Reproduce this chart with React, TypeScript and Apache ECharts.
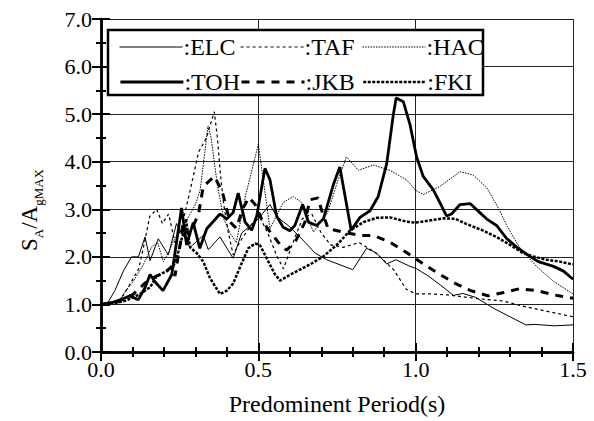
import React, { useEffect, useRef } from 'react';
import * as echarts from 'echarts';

const FONT = "'Liberation Serif', 'Times New Roman', Times, serif";

const xTicks = [0, 0.5, 1.0, 1.5];
const yTicks = [0, 1, 2, 3, 4, 5, 6, 7];

const elcT = [0, 0.02, 0.044, 0.071, 0.097, 0.119, 0.14, 0.156, 0.182, 0.214, 0.24, 0.283, 0.325, 0.341, 0.378, 0.42, 0.447, 0.5, 0.537, 0.558, 0.6, 0.648, 0.68, 0.717, 0.8, 0.844, 0.876, 0.908, 0.937, 0.982, 1.0, 1.04, 1.08, 1.12, 1.15, 1.19, 1.25, 1.3, 1.35, 1.38, 1.44, 1.5];
const elcV = [1.0, 1.02, 1.29, 1.7, 2.0, 2.0, 2.42, 1.92, 2.38, 2.04, 2.7, 2.2, 2.45, 2.15, 2.42, 1.97, 2.5, 2.8, 3.1, 2.85, 2.63, 2.31, 2.08, 1.94, 1.73, 2.18, 2.08, 1.85, 1.94, 1.8, 1.76, 1.6, 1.4, 1.19, 1.23, 1.15, 0.91, 0.74, 0.57, 0.58, 0.55, 0.57];

const tafT = [0, 0.03, 0.06, 0.09, 0.12, 0.135, 0.155, 0.177, 0.195, 0.215, 0.235, 0.255, 0.28, 0.31, 0.335, 0.36, 0.37, 0.38, 0.39, 0.405, 0.42, 0.44, 0.47, 0.5, 0.53, 0.56, 0.58, 0.61, 0.64, 0.67, 0.7, 0.73, 0.77, 0.82, 0.87, 0.93, 0.97, 1.0, 1.05, 1.1, 1.2, 1.28, 1.35, 1.4, 1.45, 1.5];
const tafV = [1.0, 1.02, 1.08, 1.4, 1.75, 2.2, 2.85, 3.0, 2.7, 2.9, 2.3, 2.6, 3.3, 4.2, 4.5, 5.05, 4.5, 3.7, 3.1, 2.5, 2.04, 2.3, 2.6, 2.9, 2.5, 2.0, 1.75, 2.3, 2.8, 2.9, 2.5, 2.25, 2.2, 2.3, 2.1, 1.73, 1.32, 1.22, 1.22, 1.2, 1.12, 1.07, 0.95, 0.88, 0.81, 0.74];

const hacT = [0, 0.03, 0.06, 0.08, 0.103, 0.135, 0.161, 0.18, 0.198, 0.215, 0.235, 0.255, 0.275, 0.3, 0.315, 0.33, 0.34, 0.35, 0.37, 0.39, 0.41, 0.43, 0.46, 0.49, 0.5, 0.537, 0.579, 0.611, 0.638, 0.675, 0.72, 0.75, 0.78, 0.818, 0.865, 0.918, 0.971, 1.0, 1.024, 1.077, 1.141, 1.183, 1.226, 1.265, 1.29, 1.33, 1.384, 1.437, 1.5];
const hacV = [1.0, 1.02, 1.1, 1.3, 1.49, 1.84, 2.21, 2.3, 1.9, 2.1, 2.4, 2.6, 2.8, 3.1, 3.4, 4.2, 4.75, 4.5, 3.5, 2.8, 2.5, 2.3, 3.3, 4.1, 4.37, 2.59, 3.14, 3.27, 3.14, 2.52, 2.93, 3.55, 4.1, 3.82, 3.93, 3.82, 3.62, 3.4, 3.31, 3.48, 3.79, 3.72, 3.45, 3.0, 2.65, 2.2, 1.8, 1.49, 1.22];

const tohT = [0, 0.04, 0.07, 0.092, 0.118, 0.14, 0.156, 0.172, 0.197, 0.225, 0.256, 0.272, 0.293, 0.314, 0.336, 0.378, 0.4, 0.42, 0.436, 0.458, 0.479, 0.495, 0.521, 0.537, 0.558, 0.579, 0.6, 0.616, 0.641, 0.659, 0.685, 0.707, 0.738, 0.759, 0.795, 0.823, 0.855, 0.881, 0.908, 0.929, 0.938, 0.961, 0.982, 1.003, 1.024, 1.056, 1.077, 1.098, 1.114, 1.141, 1.173, 1.204, 1.225, 1.257, 1.29, 1.32, 1.363, 1.39, 1.438, 1.47, 1.5];
const tohV = [1.0, 1.05, 1.12, 1.18, 1.1, 1.35, 1.63, 1.47, 1.29, 1.63, 3.03, 2.25, 2.72, 2.18, 2.59, 2.9, 2.8, 2.93, 3.34, 2.73, 2.56, 2.86, 3.86, 3.62, 2.86, 2.62, 2.55, 2.66, 3.1, 2.73, 2.66, 2.8, 3.51, 3.89, 2.56, 2.83, 2.97, 3.27, 3.96, 4.99, 5.34, 5.26, 4.78, 4.1, 3.69, 3.41, 3.14, 2.86, 2.9, 3.1, 3.12, 2.93, 2.8, 2.66, 2.38, 2.21, 2.01, 1.9, 1.8, 1.7, 1.53];

const jkbT = [0, 0.05, 0.1, 0.14, 0.177, 0.2, 0.225, 0.235, 0.25, 0.262, 0.275, 0.29, 0.31, 0.325, 0.36, 0.385, 0.41, 0.43, 0.45, 0.47, 0.49, 0.51, 0.53, 0.57, 0.59, 0.62, 0.648, 0.664, 0.69, 0.7, 0.722, 0.77, 0.823, 0.865, 0.918, 0.971, 1.02, 1.07, 1.12, 1.175, 1.23, 1.28, 1.33, 1.385, 1.44, 1.5];
const jkbV = [1.0, 1.05, 1.2, 1.45, 1.6, 1.65, 1.8, 1.6, 2.2, 2.7, 2.5, 2.6, 2.9, 3.48, 3.69, 3.38, 2.73, 2.6, 3.0, 3.25, 3.1, 2.8, 2.59, 2.25, 2.14, 2.35, 2.73, 3.2, 3.24, 3.0, 2.59, 2.52, 2.45, 2.45, 2.31, 2.09, 1.87, 1.66, 1.46, 1.29, 1.18, 1.25, 1.33, 1.29, 1.2, 1.13];

const fkiT = [0, 0.04, 0.08, 0.124, 0.156, 0.177, 0.209, 0.23, 0.246, 0.262, 0.27, 0.283, 0.304, 0.325, 0.346, 0.378, 0.4, 0.42, 0.441, 0.468, 0.49, 0.505, 0.532, 0.553, 0.569, 0.611, 0.664, 0.707, 0.754, 0.791, 0.834, 0.876, 0.918, 0.971, 1.0, 1.04, 1.088, 1.125, 1.162, 1.215, 1.262, 1.3, 1.341, 1.373, 1.416, 1.458, 1.5];
const fkiV = [1.0, 1.02, 1.08, 1.22, 1.36, 1.6, 1.7, 1.8, 2.11, 2.52, 2.8, 2.2, 2.08, 1.9, 1.56, 1.22, 1.29, 1.44, 1.77, 2.18, 2.28, 2.25, 1.9, 1.63, 1.5, 1.66, 1.84, 2.01, 2.28, 2.55, 2.73, 2.82, 2.83, 2.74, 2.72, 2.76, 2.81, 2.8, 2.69, 2.55, 2.4, 2.25, 2.08, 2.01, 1.94, 1.9, 1.84];

const zip = (t: number[], v: number[]) => t.map((x, i) => [x, v[i]]);

const STYLES: Record<string, { width: number; type: any }> = {
  ELC: { width: 1, type: 'solid' },
  TAF: { width: 1.2, type: [3, 3] },
  HAC: { width: 1, type: [1.5, 1.2] },
  TOH: { width: 2.8, type: 'solid' },
  JKB: { width: 3, type: [8, 7] },
  FKI: { width: 2.5, type: [3, 1.5] },
};

export default function App() {
  const ref = useRef<HTMLDivElement>(null);
  useEffect(() => {
    if (!ref.current) return;
    const chart = echarts.init(ref.current, null, { renderer: 'svg' });
    const axisLine = { show: true, lineStyle: { color: '#000', width: 2.5 } };
    const legendBase = (name: string, left: number, top: number) => ({
      data: [name],
      left,
      top,
      orient: 'horizontal',
      itemWidth: 63,
      itemHeight: 24,
      padding: 0,
      selectedMode: false,
      formatter: ':{name}',
      itemStyle: { opacity: 0 },
      lineStyle: { color: '#000', width: STYLES[name].width, type: STYLES[name].type },
      textStyle: { fontSize: 24, fontFamily: FONT, color: '#000', padding: [0, 0, 0, -4] },
    });
    const mk = (name: string, t: number[], v: number[]) => ({
      name,
      type: 'line',
      data: zip(t, v),
      symbol: 'none',
      xAxisIndex: 0,
      yAxisIndex: 0,
      lineStyle: { color: '#000', width: STYLES[name].width, type: STYLES[name].type },
      itemStyle: { color: '#000' },
    });
    chart.setOption({
      animation: false,
      backgroundColor: '#fff',
      textStyle: { fontFamily: FONT },
      grid: { left: 101, right: 21, top: 19, bottom: 62, containLabel: false },
      xAxis: [
        {
          type: 'value', min: 0, max: 1.5, interval: 0.5, position: 'bottom',
          axisLine,
          axisTick: { show: true, inside: true, length: 9, lineStyle: { color: '#000', width: 2 } },
          minorTick: { show: true, splitNumber: 5, length: 5, lineStyle: { color: '#000', width: 2 } },
          splitLine: { show: true, lineStyle: { color: '#222', width: 1 } },
          axisLabel: { fontSize: 22, fontFamily: FONT, color: '#000', margin: 6, formatter: (v: number) => v.toFixed(1), customValues: xTicks },
          name: 'Predominent Period(s)', nameLocation: 'middle', nameGap: 40,
          nameTextStyle: { fontSize: 24, fontFamily: FONT, color: '#000' },
        },
        {
          type: 'value', min: 0, max: 1.5, interval: 0.5, position: 'top',
          axisLine,
          axisTick: { show: true, inside: true, length: 9, lineStyle: { color: '#000', width: 2 } },
          minorTick: { show: true, splitNumber: 5, length: 5, lineStyle: { color: '#000', width: 2 } },
          splitLine: { show: false },
          axisLabel: { show: false },
        },
      ],
      yAxis: [
        {
          type: 'value', min: 0, max: 7, interval: 1, position: 'left',
          axisLine,
          axisTick: { show: true, inside: true, length: 9, lineStyle: { color: '#000', width: 2 } },
          minorTick: { show: true, splitNumber: 2, length: 5, lineStyle: { color: '#000', width: 2 } },
          splitLine: { show: true, lineStyle: { color: '#222', width: 1 } },
          axisLabel: { fontSize: 22, fontFamily: FONT, color: '#000', margin: 9, formatter: (v: number) => v.toFixed(1), customValues: yTicks },
        },
        {
          type: 'value', min: 0, max: 7, interval: 1, position: 'right',
          axisLine,
          axisTick: { show: true, inside: true, length: 9, lineStyle: { color: '#000', width: 2 } },
          minorTick: { show: true, splitNumber: 2, length: 5, lineStyle: { color: '#000', width: 2 } },
          splitLine: { show: false },
          axisLabel: { show: false },
        },
      ],
      legend: [
        legendBase('ELC', 119, 35),
        legendBase('TOH', 119, 70),
        legendBase('TAF', 240, 35),
        legendBase('JKB', 240, 70),
        legendBase('HAC', 362, 35),
        legendBase('FKI', 362, 70),
      ],
      graphic: {
        elements: [
          {
            type: 'rect', z: 3, silent: true,
            shape: { x: 108, y: 30, width: 375, height: 65 },
            style: { fill: '#fff', stroke: '#000', lineWidth: 2.5 },
          },
          {
            type: 'text', z: 5, x: 29, y: 210, rotation: Math.PI / 2,
            style: {
              text: '{n|S}{s|A}{n|/A}{s|gMAX}',
              align: 'center', verticalAlign: 'middle',
              fill: '#000',
              fontFamily: FONT,
              rich: {
                n: { fontSize: 23, fontFamily: FONT, fill: '#000', lineHeight: 24, verticalAlign: 'bottom' },
                s: { fontSize: 13, fontFamily: FONT, fill: '#000', lineHeight: 12, verticalAlign: 'bottom', padding: [0, 0, -4, 0] },
              },
            },
          },
        ],
      },
      series: [
        mk('ELC', elcT, elcV),
        mk('TAF', tafT, tafV),
        mk('HAC', hacT, hacV),
        mk('JKB', jkbT, jkbV),
        mk('FKI', fkiT, fkiV),
        mk('TOH', tohT, tohV),
      ],
    });
    return () => chart.dispose();
  }, []);
  return <div ref={ref} style={{ position: 'absolute', left: 0, top: 0, width: 594, height: 421 }} />;
}
